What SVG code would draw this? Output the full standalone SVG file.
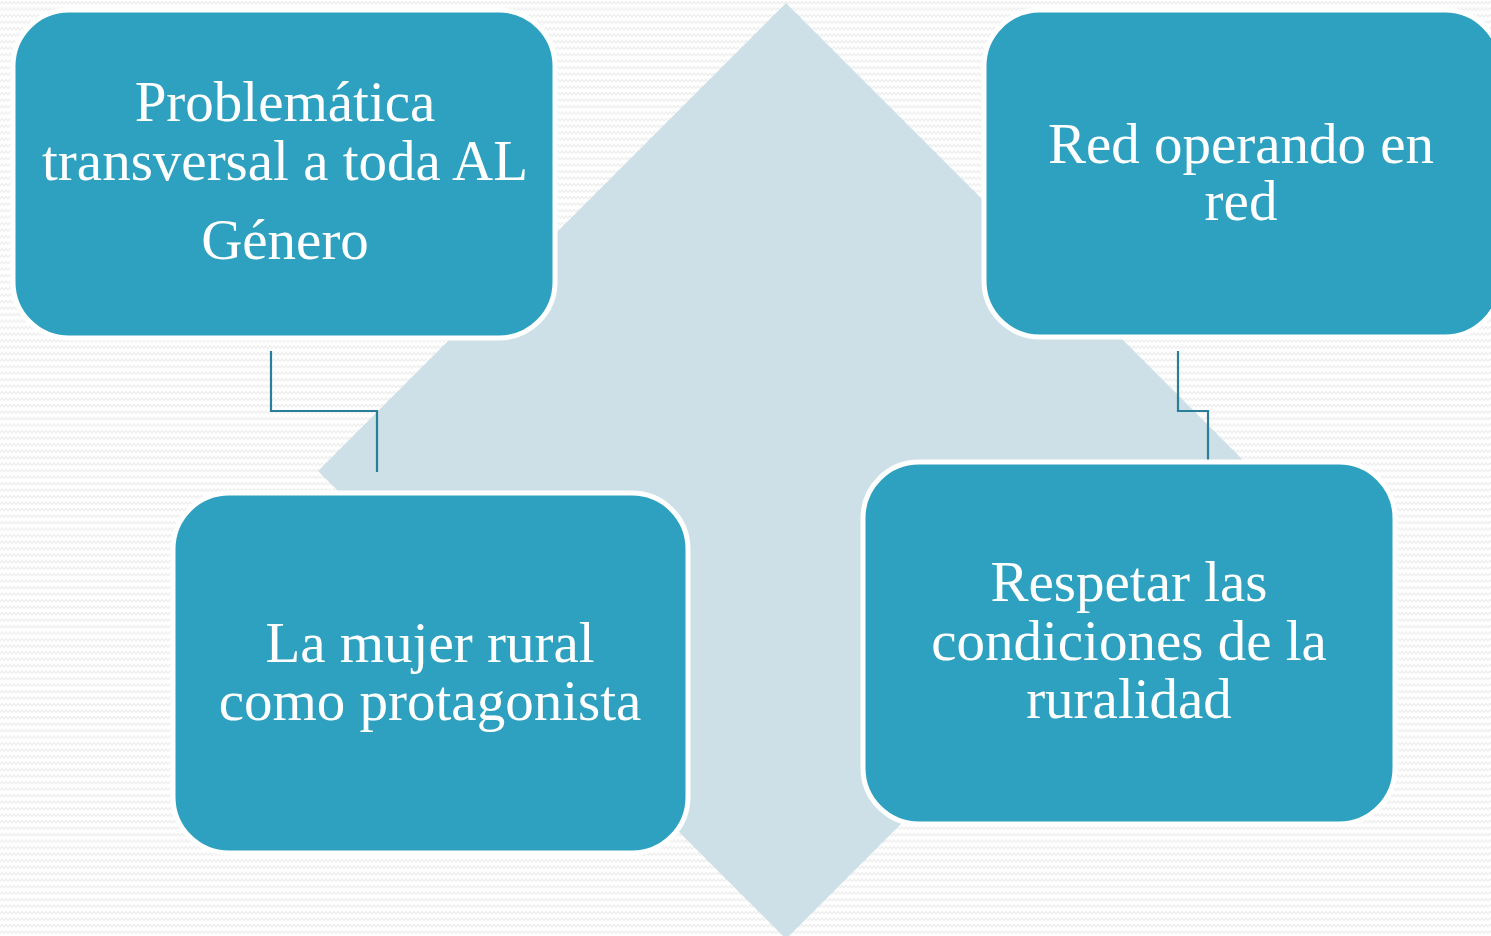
<svg xmlns="http://www.w3.org/2000/svg" width="1491" height="936" viewBox="0 0 1491 936">
  <style>
    .box { fill: #2DA1BF; stroke: #FFFFFF; stroke-width: 5; }
    .lbl { fill: #FFFFFF; font-family: "Liberation Serif", "DejaVu Serif", serif; font-size: 57px; text-anchor: middle; }
    .conn { fill: none; stroke: #2A7E98; stroke-width: 2.2; }
  </style>
  <defs>
    <pattern id="zig" width="8" height="6.5" patternUnits="userSpaceOnUse">
      <polyline points="0,4 2,1.5 4,4 6,1.5 8,4" fill="none" stroke="#ECECEC" stroke-width="1.2"/>
    </pattern>
  </defs>
  <rect x="0" y="0" width="1491" height="936" fill="#FFFFFF"/>
  <rect x="0" y="0" width="1491" height="936" fill="url(#zig)"/>
  <polygon id="diamond" points="786,3 1254,471 786,939 318,471" fill="#CDE0E7"/>

  <g id="connectors">
    <polyline class="conn" points="271,351 271,411 377,411 377,472"/>
    <polyline class="conn" points="1178,351 1178,411 1208,411 1208,472"/>
  </g>

  <g id="node-genero">
    <rect class="box" x="13" y="10" width="542" height="328" rx="56" ry="56"/>
    <text class="lbl" x="285" y="121">Problemática</text>
    <text class="lbl" x="285" y="180">transversal a toda AL</text>
    <text class="lbl" x="285" y="259">Género</text>
  </g>
  <g id="node-red">
    <rect class="box" x="984" y="10" width="517" height="327" rx="56" ry="56"/>
    <text class="lbl" x="1241" y="163">Red operando en</text>
    <text class="lbl" x="1241" y="220">red</text>
  </g>
  <g id="node-mujer">
    <rect class="box" x="173" y="493" width="515" height="360" rx="56" ry="56"/>
    <text class="lbl" x="430" y="662">La mujer rural</text>
    <text class="lbl" x="430" y="720">como protagonista</text>
  </g>
  <g id="node-ruralidad">
    <rect class="box" x="863" y="462" width="532" height="362" rx="56" ry="56"/>
    <text class="lbl" x="1129" y="601">Respetar las</text>
    <text class="lbl" x="1129" y="660">condiciones de la</text>
    <text class="lbl" x="1129" y="718">ruralidad</text>
  </g>
</svg>
